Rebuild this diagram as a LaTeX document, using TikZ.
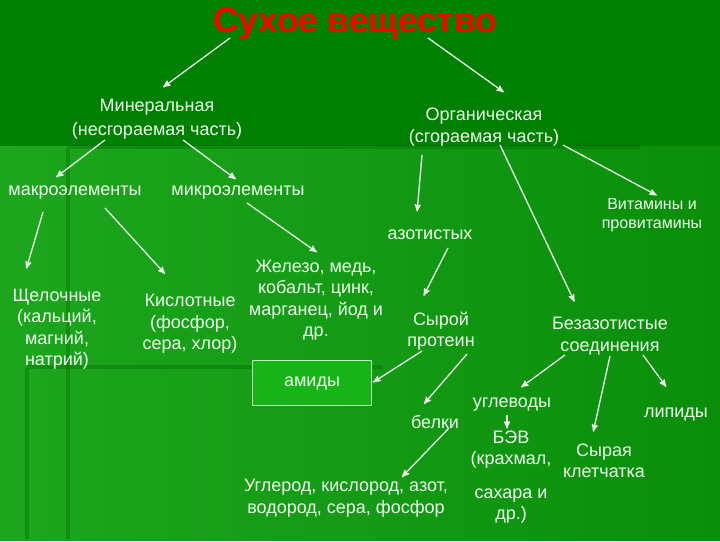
\documentclass[tikz,border=0pt]{standalone}
\usepackage{fontspec}
\setmainfont{Liberation Sans}
\usetikzlibrary{arrows}

\definecolor{bggreen}{RGB}{0,128,0}
\definecolor{panelleft}{RGB}{30,166,30}
\definecolor{panelright}{RGB}{10,142,10}
\definecolor{gridline}{RGB}{0,100,0}
\definecolor{labeltext}{RGB}{236,255,236}
\definecolor{boxfill}{RGB}{22,180,22}
\definecolor{titlered}{RGB}{255,0,0}

\begin{document}
\begin{tikzpicture}[x=0.025cm,y=-0.025cm,>=stealth',shorten >=1pt,
    label node/.style={text=labeltext,align=center,inner sep=1pt,
      font=\fontsize{12.8}{15.2}\selectfont},
    small node/.style={label node,font=\fontsize{11.4}{14}\selectfont},
    title node/.style={font=\fontsize{25}{28}\selectfont\bfseries,inner sep=1pt},
    arr/.style={->,draw=labeltext,line width=0.9pt}]
    % background of the slide
    \fill[bggreen] (0,0) rectangle (720,540);
    \shade[left color=panelleft,right color=panelright] (0,147) rectangle (720,540);
    \draw[gridline,line width=2.5pt,opacity=0.35] (68,147) -- (640,147) (68,147) -- (68,540);
    \draw[gridline,line width=2.5pt,opacity=0.35] (27,367) -- (383,367) (27,367) -- (27,540);
    \useasboundingbox (0,0) rectangle (720,540);

    % nodes
    \node[title node,text=titlered] (title) at (355,24) {Сухое вещество};
    \node[label node,font=\fontsize{12.8}{17}\selectfont] (mineral) at (157,119) {Минеральная\\(несгораемая часть)};
    \node[label node] (organic) at (484,127) {Органическая\\(сгораемая часть)};
    \node[label node] (macro) at (75,193) {макроэлементы};
    \node[label node] (micro) at (238,193) {микроэлементы};
    \node[label node] (nitro) at (430,235) {азотистых};
    \node[small node] (vitamin) at (652,215) {Витамины и\\провитамины};
    \node[label node] (alkali) at (57,329) {Щелочные\\(кальций,\\магний,\\натрий)};
    \node[label node] (acid) at (190,324) {Кислотные\\(фосфор,\\сера, хлор)};
    \node[label node] (trace) at (316,300) {Железо, медь,\\кобальт, цинк,\\марганец, йод и\\др.};
    \node[label node] (protein) at (441,331) {Сырой\\протеин};
    \node[label node] (nonnitro) at (610,336) {Безазотистые\\соединения};
    \node[label node,draw=labeltext!80!green,fill=boxfill,line width=0.6pt,
      minimum width=2.975cm,minimum height=1.125cm] (amides) at (312,383) {амиды};
    \node[label node] (carbs) at (512,405) {углеводы};
    \node[label node] (proteins) at (435,422) {белки};
    \node[label node] (lipids) at (676,415) {липиды};
    \node[label node] (nfe) at (511,477) {БЭВ\\(крахмал,\\[9pt]сахара и\\др.)};
    \node[label node] (fiber) at (604,461) {Сырая\\клетчатка};
    \node[label node] (elements) at (346,498) {Углерод, кислород, азот,\\водород, сера, фосфор};

    % arrows
    \draw[arr] ([shift={(-125,14)}]title.center) -- ([shift={(5,-31)}]mineral.center);
    \draw[arr] ([shift={(73,14)}]title.center) -- ([shift={(21,-34)}]organic.center);
    \draw[arr] ([shift={(-52,21)}]mineral.center) -- ([shift={(-20,-15)}]macro.center);
    \draw[arr] ([shift={(26,21)}]mineral.center) -- ([shift={(-1,-13)}]micro.center);
    \draw[arr] ([shift={(-32,19)}]macro.center) -- ([shift={(-31,-59)}]alkali.center);
    \draw[arr] ([shift={(30,15)}]macro.center) -- ([shift={(-24,-49)}]acid.center);
    \draw[arr] ([shift={(9,10)}]micro.center) -- ([shift={(2,-47)}]trace.center);
    \draw[arr] ([shift={(-62,28)}]organic.center) -- ([shift={(-13,-22)}]nitro.center);
    \draw[arr] ([shift={(16,18)}]organic.center) -- ([shift={(-35,-33)}]nonnitro.center);
    \draw[arr] ([shift={(79,18)}]organic.center) -- ([shift={(6,-19)}]vitamin.center);
    \draw[arr] ([shift={(18,13)}]nitro.center) -- ([shift={(-18,-34)}]protein.center);
    \draw[arr] ([shift={(-19,20)}]protein.center) -- (amides.east);
    \draw[arr] ([shift={(26,23)}]protein.center) -- ([shift={(-12,-17)}]proteins.center);
    \draw[arr] ([shift={(14,6)}]proteins.center) -- ([shift={(55,-20)}]elements.center);
    \draw[arr] ([shift={(-45,19)}]nonnitro.center) -- ([shift={(8,-17)}]carbs.center);
    \draw[arr] ([shift={(0,20)}]nonnitro.center) -- ([shift={(-11,-28)}]fiber.center);
    \draw[arr] ([shift={(33,19)}]nonnitro.center) -- ([shift={(-9,-27)}]lipids.center);
    \draw[arr] ([shift={(-5,10)}]carbs.center) -- ([shift={(-4,-47)}]nfe.center);
\end{tikzpicture}
\end{document}
